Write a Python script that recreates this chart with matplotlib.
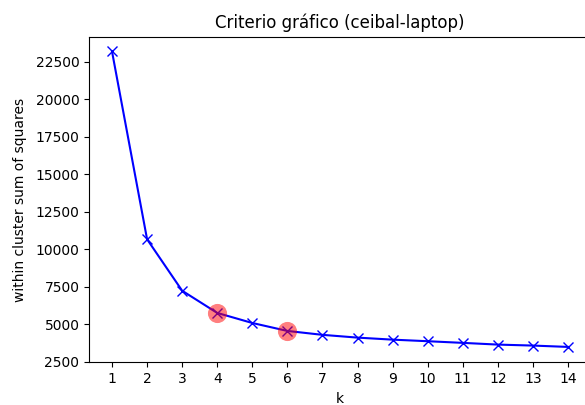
import matplotlib
matplotlib.use("Agg")
import matplotlib.pyplot as plt
import numpy as np

# k values and within-cluster sum of squares
k_values = list(range(1, 15))
wcss = [23190, 10670, 7240, 5760, 5090, 4560, 4300, 4115, 3980,
        3875, 3765, 3650, 3585, 3495]
highlight_k = [4, 6]

fig = plt.figure(figsize=(5.85, 4.05), dpi=100)
ax = fig.add_axes([89.2 / 585, (405 - 362.3) / 405, (590.8 - 89.2) / 585, (362.3 - 36.7) / 405])

ax.plot(k_values, wcss, color="blue", marker="x", markersize=7)
hl_vals = [wcss[k_values.index(k)] for k in highlight_k]
ax.scatter(highlight_k, hl_vals, s=190, color="red", alpha=0.5,
           linewidths=0, zorder=3)

ax.set_xticks(k_values)
ax.set_ylim(2470, 24170)
ax.set_title("Criterio gráfico (ceibal-laptop)", fontsize=12)
ax.set_xlabel("k")
ax.set_ylabel("within cluster sum of squares", labelpad=6)

fig.savefig("out.png", dpi=100)
